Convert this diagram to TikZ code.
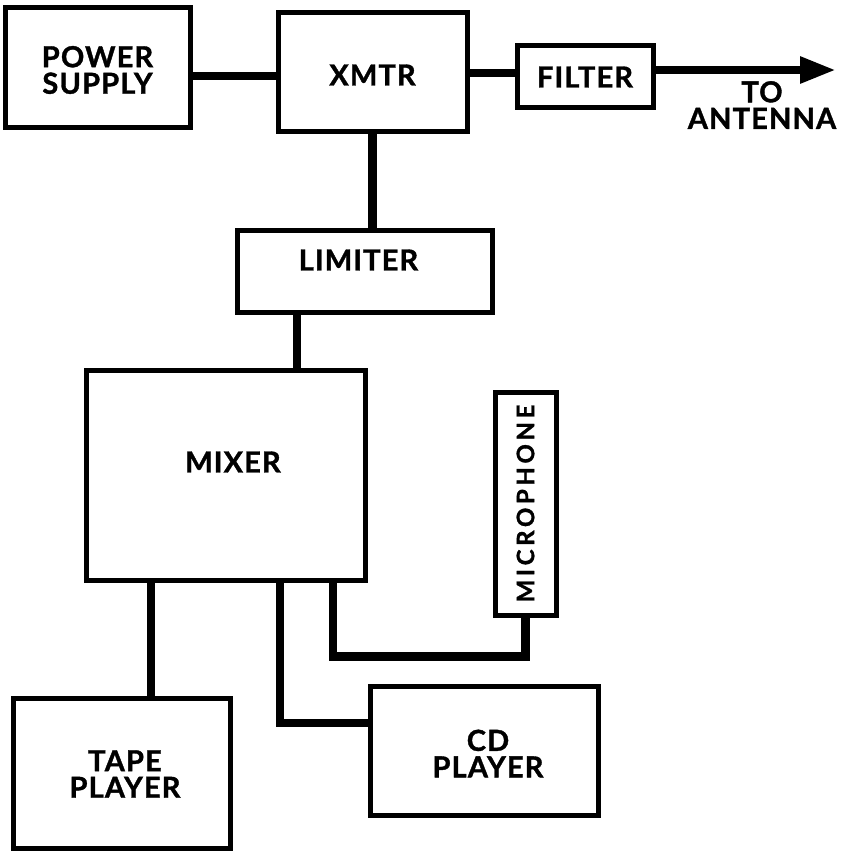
\documentclass[tikz,border=0pt]{standalone}
\usepackage{fontspec}
\setmainfont{Lato}[BoldFeatures={FakeBold=1.2}]
\usetikzlibrary{arrows.meta}
\begin{document}
\begin{tikzpicture}[x=1pt,y=-1pt,
  txt/.style={font=\fontsize{29}{26.5}\selectfont\bfseries\addfontfeature{LetterSpace=4}, align=center, inner sep=0pt},
  box/.style={draw, line width=5pt, rectangle, inner sep=0pt},
  conn/.style={line width=8.5pt}]
\fill[white] (0,0) rectangle (843,852);
\useasboundingbox (0,0) rectangle (843,852);
% boxes
\node[box, minimum width=185pt, minimum height=120pt,
  label={[txt, yshift=-3pt]center:POWER\\SUPPLY}] (ps) at (97.5,67) {};
\node[box, minimum width=189pt, minimum height=119pt,
  label={[txt, yshift=-3.5pt]center:XMTR}] (xmtr) at (372.5,71.5) {};
\node[box, minimum width=136pt, minimum height=62pt,
  label={[txt, yshift=-1pt]center:FILTER}] (filter) at (585,76) {};
\node[box, minimum width=255pt, minimum height=82pt,
  label={[txt, xshift=-6pt, yshift=11pt]center:LIMITER}] (limiter) at (364.5,271) {};
\node[box, minimum width=279pt, minimum height=210pt,
  label={[txt, xshift=7.5pt, yshift=13pt]center:MIXER}] (mixer) at (225.5,475) {};
\node[box, minimum width=61pt, minimum height=223pt,
  label={[font=\fontsize{24}{24}\selectfont\bfseries\addfontfeature{LetterSpace=15}, inner sep=0pt, rotate=90]center:MICROPHONE}] (mic) at (525.5,503.5) {};
\node[box, minimum width=217pt, minimum height=150pt,
  label={[txt, xshift=3.5pt, yshift=-1pt]center:TAPE\\PLAYER}] (tape) at (121.5,773) {};
\node[box, minimum width=228pt, minimum height=129pt,
  label={[txt, xshift=4pt, yshift=-3pt]center:CD\\PLAYER}] (cd) at (484,750.5) {};
\coordinate (ant) at (836,70);
\node[txt] (antlbl) at (762,105) {TO\\ANTENNA};
% connectors
\draw[conn] ([yshift=-9pt]ps.east) -- ([yshift=-9pt]ps.east -| xmtr.west);
\draw[conn] ([yshift=3pt]filter.west) -- ([yshift=3pt]filter.west -| xmtr.east);
\draw[conn, -{Triangle[length=36pt, width=25pt]}] ([yshift=6pt]filter.east) -- (ant);
\draw[conn] (xmtr.south) -- (xmtr.south |- limiter.north);
\draw[conn] ([xshift=-67.5pt]limiter.south) -- ([xshift=-67.5pt]limiter.south |- mixer.north);
\draw[conn] ([xshift=-74.5pt]mixer.south) -- ([xshift=-74.5pt]mixer.south |- tape.north);
\draw[conn] ([xshift=54.5pt]mixer.south) |- ([yshift=27.5pt]cd.west);
\draw[conn] ([xshift=107.5pt]mixer.south) -- ++(0,74) -| (mic.south);
\end{tikzpicture}
\end{document}
